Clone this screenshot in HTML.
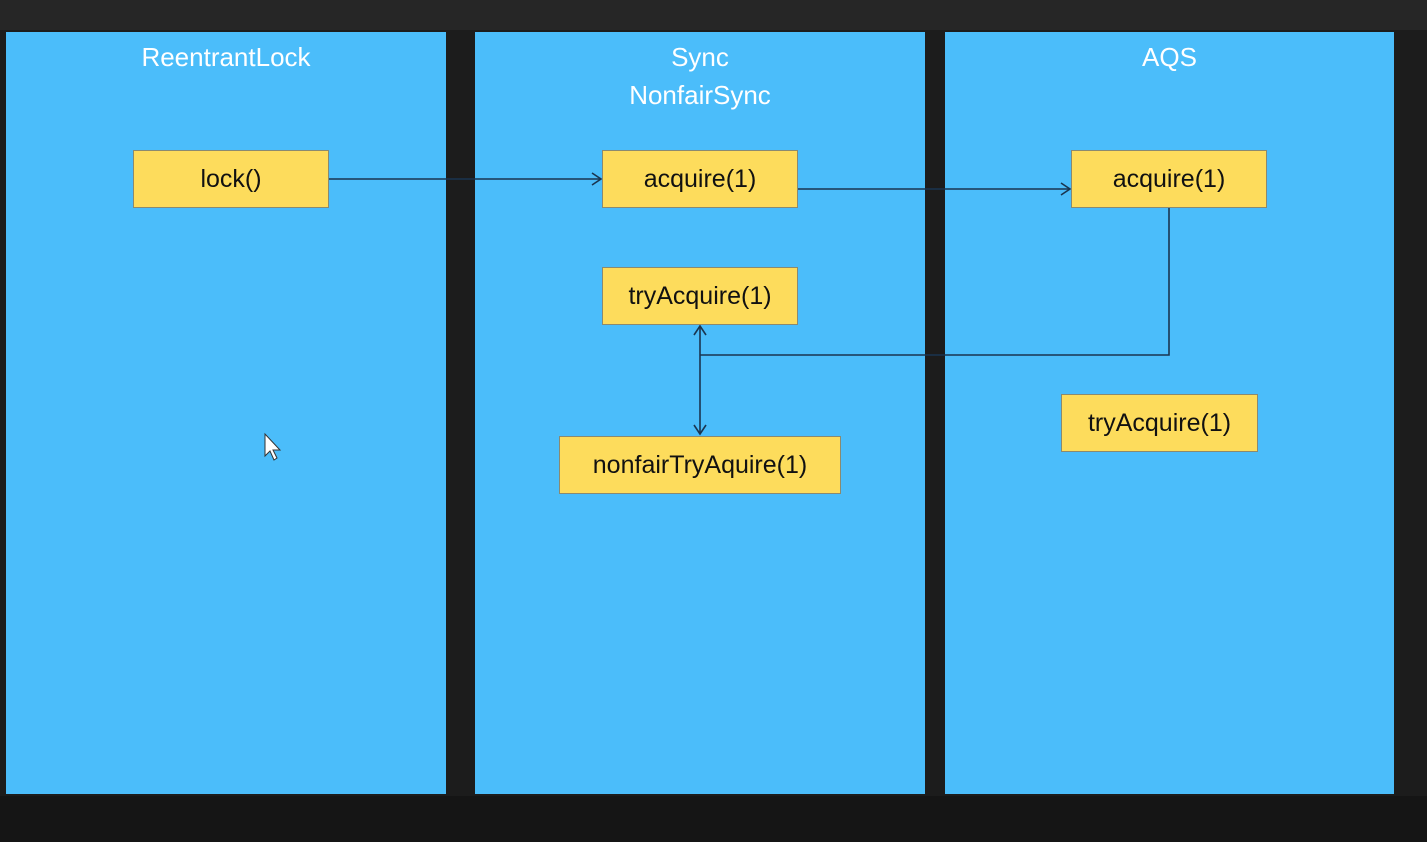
<!DOCTYPE html>
<html><head><meta charset="utf-8"><style>
html,body{margin:0;padding:0;}
body{width:1427px;height:842px;background:#1c1c1c;position:relative;overflow:hidden;font-family:"Liberation Sans",sans-serif;}
.p{position:absolute;background:#4bbdfa;top:32px;height:762px;}
.t{position:absolute;color:#fff;font-size:26px;text-align:center;line-height:38px;}
.b{position:absolute;background:#fddc5c;border:1px solid #8a8a70;box-sizing:border-box;color:#111;font-size:25px;display:flex;align-items:center;justify-content:center;}
</style></head><body>
<div style="position:absolute;left:0;top:0;width:1427px;height:30px;background:#262626"></div>
<div style="position:absolute;left:0;top:796px;width:1427px;height:46px;background:#151515"></div>
<div class="p" style="left:6px;width:440px"></div>
<div class="p" style="left:475px;width:450px"></div>
<div class="p" style="left:945px;width:449px"></div>
<div class="t" style="left:6px;width:440px;top:38px">ReentrantLock</div>
<div class="t" style="left:475px;width:450px;top:38px">Sync<br>NonfairSync</div>
<div class="t" style="left:945px;width:449px;top:38px">AQS</div>
<svg style="position:absolute;left:0;top:0" width="1427" height="842">
<g stroke="#1a3550" stroke-width="1.6" fill="none">
<line x1="328" y1="179" x2="601" y2="179"/><polyline points="592,173 601,179 592,185"/>
<line x1="797" y1="189" x2="1070" y2="189"/><polyline points="1061,183 1070,189 1061,195"/>
<polyline points="1169,207 1169,355 700,355"/>
<line x1="700" y1="326" x2="700" y2="434"/>
<polyline points="694,335 700,326 706,335"/><polyline points="694,425 700,434 706,425"/>
</g>
<path d="M265 434 L265 456 L270 451 L274 460 L277 458 L273 450 L280 450 Z" fill="#fff" stroke="#333" stroke-width="1"/>
</svg>
<div class="b" style="left:133px;top:150px;width:196px;height:58px">lock()</div>
<div class="b" style="left:602px;top:150px;width:196px;height:58px">acquire(1)</div>
<div class="b" style="left:1071px;top:150px;width:196px;height:58px">acquire(1)</div>
<div class="b" style="left:602px;top:267px;width:196px;height:58px">tryAcquire(1)</div>
<div class="b" style="left:559px;top:436px;width:282px;height:58px">nonfairTryAquire(1)</div>
<div class="b" style="left:1061px;top:394px;width:197px;height:58px">tryAcquire(1)</div>
</body></html>
